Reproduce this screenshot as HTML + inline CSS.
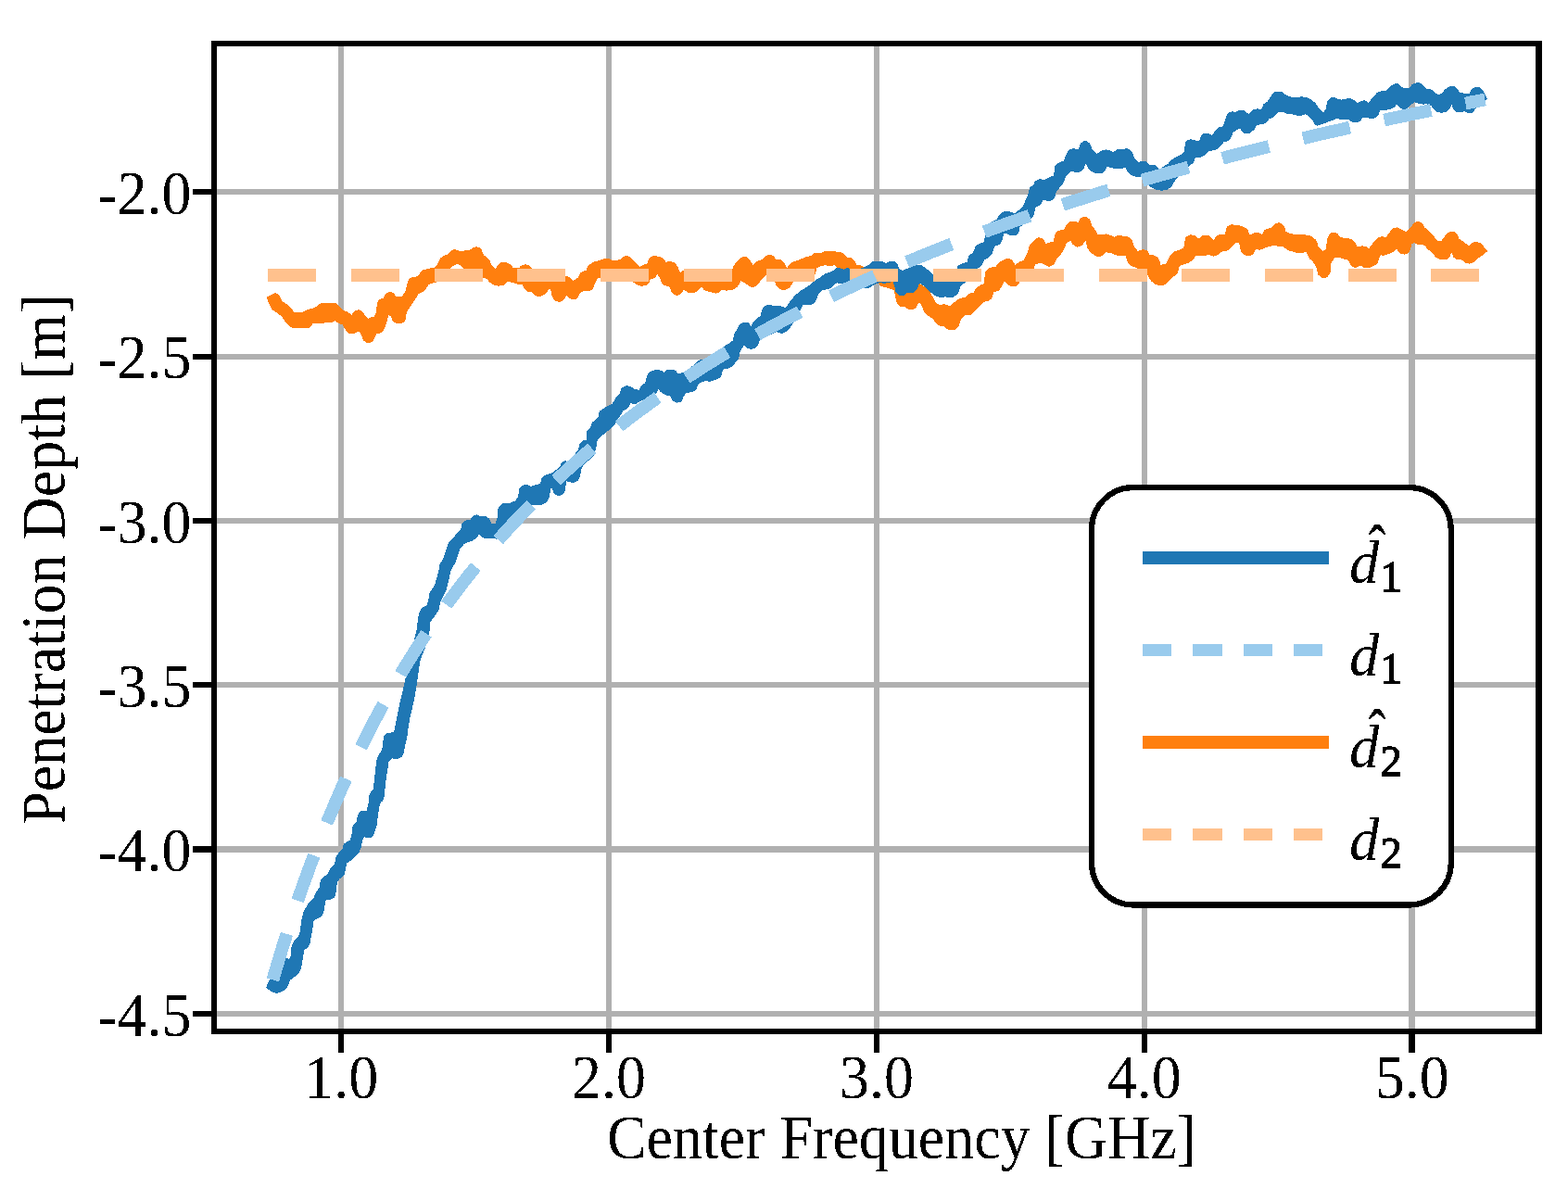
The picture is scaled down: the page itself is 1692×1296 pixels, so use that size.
<!DOCTYPE html>
<html lang="en">
<head>
<meta charset="utf-8">
<title>Penetration Depth vs Center Frequency</title>
<style>
html,body{margin:0;padding:0;background:#fff;}
body{width:1692px;height:1296px;overflow:hidden;}
svg{display:block;}
text{font-family:"Liberation Serif",serif;fill:#000;}
.t{font-size:66.67px;}
.k{font-size:67.7px;}
.m{font-style:italic;font-size:64.6px;}
</style>
</head>
<body>
<svg width="1692" height="1296" viewBox="0 0 1692 1296">
<defs><filter id="bw" x="-10%" y="-10%" width="120%" height="120%" color-interpolation-filters="sRGB"><feComponentTransfer><feFuncA type="discrete" tableValues="0 1"/></feComponentTransfer></filter></defs>
<rect x="0" y="0" width="1692" height="1296" fill="#ffffff"/>
<g id="grid" fill="#b0b0b0" shape-rendering="crispEdges">
<rect x="365" y="44" width="6" height="1072"/>
<rect x="654" y="44" width="6" height="1072"/>
<rect x="943" y="44" width="6" height="1072"/>
<rect x="1232" y="44" width="6" height="1072"/>
<rect x="1520" y="44" width="7" height="1072"/>
<rect x="228" y="204" width="1436" height="6"/>
<rect x="228" y="382" width="1436" height="6"/>
<rect x="228" y="559" width="1436" height="6"/>
<rect x="228" y="736" width="1436" height="6"/>
<rect x="228" y="913" width="1436" height="7"/>
<rect x="228" y="1091" width="1436" height="6"/>
</g>
<g id="curves" shape-rendering="crispEdges">
<path id="est2" fill="#ff7f0e" d="M1598.7 276.3 L1605.0 271.1 L1598.5 262.9 L1594.8 261.3 L1592.6 261.1 L1590.1 261.5 L1588.2 262.4 L1584.9 265.2 L1579.7 261.2 L1574.3 257.6 L1573.4 254.3 L1572.9 253.0 L1571.9 252.0 L1570.0 250.6 L1568.9 250.1 L1567.7 249.9 L1564.3 250.1 L1563.1 250.8 L1559.8 253.8 L1555.3 259.9 L1551.2 259.7 L1543.2 250.2 L1537.6 245.7 L1535.4 241.8 L1534.5 240.7 L1533.1 239.9 L1531.2 239.4 L1529.9 239.2 L1528.7 239.4 L1525.9 240.6 L1521.7 246.0 L1516.9 250.2 L1509.4 245.9 L1508.0 245.4 L1505.0 245.7 L1503.1 246.7 L1500.2 249.6 L1495.7 255.8 L1491.9 255.3 L1490.0 255.5 L1487.1 256.6 L1485.5 257.7 L1481.3 262.5 L1477.3 268.2 L1474.4 266.4 L1473.1 265.9 L1470.3 265.4 L1464.3 265.8 L1462.4 261.6 L1461.0 259.9 L1458.6 258.3 L1456.9 257.7 L1446.6 256.1 L1443.6 252.5 L1442.3 251.5 L1441.1 250.9 L1439.5 250.5 L1437.9 250.7 L1435.5 251.8 L1434.6 252.8 L1432.9 255.7 L1432.3 257.2 L1430.6 268.8 L1427.1 271.1 L1423.0 267.0 L1420.7 260.0 L1420.1 258.9 L1419.2 258.0 L1415.1 255.1 L1413.6 254.4 L1407.8 253.2 L1400.2 253.4 L1393.1 252.2 L1387.2 249.9 L1386.3 245.2 L1385.8 244.1 L1383.3 241.4 L1381.8 240.6 L1380.0 240.4 L1377.5 240.8 L1376.1 241.3 L1375.0 242.2 L1371.8 246.0 L1366.5 247.1 L1365.0 247.8 L1363.9 249.1 L1361.8 252.8 L1359.5 251.7 L1358.1 251.4 L1355.1 251.1 L1353.2 251.5 L1348.8 253.4 L1346.4 248.2 L1345.7 247.1 L1344.6 246.3 L1339.4 243.9 L1334.2 242.8 L1329.4 242.3 L1328.2 242.4 L1327.0 242.8 L1325.4 243.7 L1324.2 244.7 L1323.5 246.1 L1321.6 252.8 L1315.7 253.3 L1314.1 253.7 L1312.8 254.8 L1309.2 259.3 L1307.3 256.4 L1306.2 255.3 L1303.2 253.6 L1299.0 253.7 L1297.5 254.0 L1296.3 254.9 L1293.8 257.6 L1289.0 254.1 L1287.9 253.6 L1284.5 253.4 L1283.3 253.6 L1280.4 255.4 L1279.3 256.5 L1278.8 258.0 L1277.3 267.6 L1266.5 271.9 L1264.8 273.2 L1261.1 278.1 L1258.4 284.7 L1252.5 285.9 L1251.0 280.5 L1249.9 278.6 L1246.5 275.7 L1240.6 274.7 L1238.3 271.2 L1237.4 270.2 L1236.2 269.6 L1232.9 269.4 L1231.2 269.7 L1227.9 271.1 L1223.8 265.8 L1221.8 259.8 L1220.6 258.0 L1217.2 255.4 L1211.4 254.6 L1208.2 253.8 L1206.7 253.7 L1205.3 254.2 L1202.5 255.8 L1195.9 252.8 L1193.6 252.4 L1184.8 253.4 L1182.1 248.3 L1178.3 244.0 L1176.4 237.8 L1175.7 236.5 L1174.5 235.5 L1172.2 234.2 L1170.6 233.7 L1168.9 234.0 L1167.5 234.5 L1166.1 235.3 L1165.2 236.6 L1163.5 240.4 L1161.5 239.2 L1159.5 238.6 L1156.3 238.6 L1154.8 238.9 L1153.5 239.8 L1151.5 241.8 L1147.6 248.1 L1143.4 248.6 L1141.3 249.5 L1138.9 251.8 L1138.4 253.0 L1136.9 260.5 L1133.2 261.4 L1128.7 262.9 L1126.2 258.5 L1125.4 257.5 L1124.2 256.8 L1120.7 256.4 L1119.3 256.6 L1118.0 257.4 L1115.5 259.6 L1111.5 264.0 L1110.7 265.5 L1108.6 272.9 L1104.4 281.2 L1099.8 282.7 L1098.5 283.5 L1095.6 285.9 L1092.7 281.2 L1091.9 280.2 L1088.9 278.9 L1087.3 278.6 L1085.7 279.0 L1078.7 282.5 L1077.2 283.8 L1074.3 288.0 L1068.6 288.7 L1067.3 289.1 L1066.2 289.9 L1064.1 292.0 L1063.3 293.1 L1062.9 294.5 L1061.9 306.0 L1058.0 307.7 L1054.0 310.1 L1052.5 311.8 L1050.6 315.5 L1046.7 316.5 L1045.5 317.1 L1043.9 319.0 L1041.5 320.8 L1036.4 321.8 L1034.9 322.5 L1029.8 326.0 L1024.9 330.2 L1020.2 328.4 L1019.0 328.1 L1014.3 329.1 L1009.6 326.7 L1007.1 321.2 L1003.3 315.1 L999.0 310.8 L995.1 307.3 L993.5 306.5 L991.7 306.4 L990.7 306.6 L980.0 303.7 L968.4 297.8 L956.9 293.2 L937.5 290.7 L929.8 286.8 L928.5 286.4 L924.5 285.9 L922.4 282.2 L919.5 279.2 L918.5 278.4 L917.2 278.1 L913.8 277.6 L912.1 275.1 L910.4 273.6 L907.3 272.2 L906.1 271.9 L898.3 271.1 L890.9 271.1 L889.5 271.4 L885.5 272.9 L880.0 272.9 L878.5 273.2 L877.2 274.1 L875.4 275.9 L868.7 277.7 L861.8 280.6 L855.3 282.8 L854.2 283.4 L852.0 285.2 L849.1 289.5 L846.5 284.4 L844.4 281.7 L843.0 280.6 L841.4 280.2 L837.3 280.0 L835.1 276.9 L834.1 275.9 L832.9 275.3 L831.5 275.2 L828.4 275.4 L826.8 275.8 L825.6 276.8 L823.1 279.8 L816.9 282.1 L815.4 283.0 L812.5 285.9 L809.3 281.0 L807.3 278.6 L805.8 277.5 L804.0 277.2 L800.7 277.6 L799.7 278.2 L795.6 281.6 L792.1 286.1 L790.0 290.7 L761.7 290.2 L759.1 289.5 L757.1 289.5 L754.6 290.2 L739.1 291.2 L737.1 291.8 L733.9 294.0 L731.3 288.0 L729.4 284.8 L728.4 283.8 L727.1 283.1 L724.6 282.4 L723.1 282.2 L718.5 282.6 L716.6 280.0 L715.6 279.0 L712.9 277.3 L710.9 276.6 L705.7 276.3 L704.4 276.4 L703.2 277.0 L700.9 278.5 L699.9 279.6 L699.3 281.0 L698.4 284.7 L694.9 285.6 L690.7 287.7 L686.0 284.1 L682.6 279.9 L680.2 277.5 L678.8 276.6 L677.2 276.3 L674.6 276.4 L673.1 276.7 L671.9 277.6 L670.0 279.4 L664.7 281.4 L661.5 281.0 L658.7 279.8 L657.1 279.4 L651.7 279.4 L650.1 279.8 L647.3 281.0 L641.2 282.2 L639.5 283.0 L635.2 286.4 L633.9 288.1 L632.5 291.8 L628.3 293.1 L626.8 293.9 L625.8 295.2 L623.7 299.5 L618.3 303.1 L615.0 299.6 L613.0 298.4 L588.5 291.9 L574.0 290.1 L572.4 287.7 L571.5 286.7 L570.3 286.1 L566.9 285.2 L563.3 286.1 L561.5 287.4 L559.8 289.5 L553.9 289.2 L552.1 286.7 L550.8 285.5 L547.7 283.8 L545.8 283.3 L541.6 283.3 L540.4 283.5 L537.7 285.3 L536.4 286.9 L535.0 290.1 L530.3 285.9 L528.7 281.8 L528.1 280.7 L525.9 278.1 L522.0 275.3 L519.7 269.7 L518.8 268.4 L517.6 267.5 L515.7 266.7 L514.3 266.4 L512.9 266.5 L510.4 267.3 L509.0 268.2 L506.6 270.3 L501.6 270.4 L496.0 271.1 L492.3 269.6 L490.2 269.3 L487.8 269.8 L486.8 270.7 L483.0 274.7 L478.9 276.0 L475.7 278.2 L474.3 279.9 L472.4 284.7 L469.1 288.5 L463.1 289.7 L457.4 291.2 L456.2 291.6 L455.3 292.4 L450.2 298.3 L445.2 299.0 L443.5 299.7 L442.0 300.7 L441.0 301.7 L440.4 302.9 L437.2 315.1 L433.7 320.1 L427.8 320.4 L425.3 317.0 L424.0 315.7 L422.2 315.2 L420.5 315.2 L418.5 315.6 L417.1 316.3 L416.1 317.0 L415.3 318.1 L413.6 321.6 L410.9 322.5 L409.4 323.5 L407.3 325.8 L406.9 327.1 L405.9 336.4 L404.1 341.7 L400.0 342.6 L397.0 344.1 L394.1 340.5 L391.8 336.9 L391.0 335.9 L390.0 335.3 L387.0 334.3 L384.1 334.8 L383.0 335.4 L382.0 336.3 L379.3 339.9 L376.3 337.4 L375.1 336.7 L371.0 335.2 L366.3 331.1 L362.9 327.7 L361.4 326.7 L359.7 326.5 L346.5 327.4 L345.1 327.8 L343.9 328.6 L341.5 331.1 L336.7 332.8 L330.1 334.8 L325.5 337.3 L317.8 337.3 L315.3 333.9 L312.3 330.3 L304.2 324.6 L301.8 319.7 L299.9 317.1 L298.5 316.5 L296.3 316.4 L287.3 321.0 L293.6 334.0 L298.9 337.6 L303.6 341.1 L308.8 348.6 L314.3 353.3 L315.6 354.1 L317.0 354.3 L331.7 354.3 L333.6 353.9 L335.0 352.7 L337.3 349.4 L347.2 349.4 L348.5 349.2 L350.9 347.6 L356.9 348.1 L359.0 347.7 L361.6 346.4 L365.9 349.1 L369.8 350.6 L373.0 356.4 L374.0 357.6 L375.8 359.1 L377.0 359.8 L378.4 360.0 L380.7 360.0 L382.5 359.6 L387.0 357.4 L389.9 361.2 L391.8 366.4 L392.5 367.6 L395.3 369.6 L397.1 370.2 L398.9 370.0 L401.6 368.7 L402.5 367.6 L404.1 364.8 L406.5 360.0 L409.7 359.6 L411.1 359.2 L412.2 358.3 L414.2 355.9 L415.0 354.6 L417.1 348.3 L419.5 339.9 L421.8 341.7 L423.8 346.3 L426.8 348.7 L428.9 349.4 L432.4 349.4 L435.8 347.4 L436.9 346.2 L437.5 344.8 L439.0 336.4 L450.0 320.2 L451.4 316.9 L455.1 315.7 L456.8 314.6 L459.9 311.2 L462.6 306.8 L467.9 305.1 L470.3 304.7 L472.0 303.9 L476.7 300.9 L481.5 296.3 L485.4 290.2 L488.9 287.1 L493.6 285.0 L496.6 286.5 L499.7 289.7 L500.7 290.5 L510.0 295.3 L520.6 299.5 L525.0 300.7 L528.4 304.6 L531.8 306.8 L535.4 308.3 L537.1 308.6 L541.1 308.4 L543.0 307.9 L546.0 305.9 L548.0 303.9 L552.7 304.8 L558.5 306.7 L563.4 307.2 L565.5 310.9 L568.3 313.9 L569.4 314.7 L570.7 315.1 L574.0 315.5 L577.7 318.8 L578.8 319.4 L580.1 319.6 L583.5 319.6 L585.6 319.0 L588.6 317.1 L589.9 315.9 L592.3 311.9 L594.1 312.5 L595.7 319.5 L596.2 320.8 L597.9 323.5 L599.0 324.6 L600.5 325.3 L602.5 325.7 L604.6 325.5 L607.6 324.2 L608.4 323.3 L611.3 319.0 L614.1 321.6 L616.5 323.0 L617.8 323.5 L620.7 323.2 L622.2 322.5 L623.4 321.2 L626.6 315.5 L629.0 314.3 L635.4 314.3 L638.5 312.6 L639.5 311.8 L644.9 300.1 L648.1 299.9 L661.5 300.1 L662.3 301.8 L663.6 302.8 L665.2 303.2 L682.5 303.9 L686.0 306.7 L687.3 307.4 L690.7 308.4 L692.0 308.6 L696.0 308.4 L697.7 308.0 L699.0 307.0 L700.1 305.6 L701.0 303.8 L701.4 301.9 L705.6 300.3 L707.4 299.0 L709.6 296.0 L712.0 300.1 L714.3 305.5 L715.2 306.9 L716.7 307.8 L722.6 309.6 L724.6 315.0 L725.9 316.8 L728.6 318.5 L730.1 318.7 L732.0 318.6 L733.7 318.0 L735.0 316.9 L738.0 312.5 L741.9 315.4 L743.9 316.2 L747.2 316.5 L748.6 316.4 L749.9 315.8 L752.5 313.9 L756.9 309.6 L759.6 312.7 L760.6 313.5 L761.8 314.0 L766.4 314.9 L770.8 316.4 L772.3 316.6 L773.7 316.3 L776.3 315.2 L777.6 314.3 L779.4 312.5 L783.3 313.5 L784.9 313.6 L790.4 312.6 L791.9 312.1 L795.0 310.1 L796.4 308.6 L799.5 303.1 L804.2 305.4 L807.8 308.6 L809.0 309.3 L810.4 309.6 L813.2 309.6 L814.7 309.3 L816.0 308.4 L818.2 306.2 L823.1 300.1 L826.7 296.6 L836.1 303.9 L837.0 307.3 L838.1 309.1 L840.1 311.1 L841.9 312.2 L844.5 312.8 L846.6 312.8 L849.8 311.8 L851.3 311.1 L853.8 307.9 L855.9 304.2 L867.7 300.1 L877.4 297.2 L878.6 296.6 L879.5 295.6 L880.1 294.4 L881.3 289.5 L885.5 287.1 L890.2 286.2 L896.2 287.2 L898.3 286.9 L900.8 285.9 L903.3 289.0 L911.0 297.3 L912.0 298.0 L920.3 302.7 L921.7 303.2 L938.5 305.4 L948.1 306.0 L949.6 307.8 L950.6 308.8 L951.9 309.3 L956.4 310.2 L964.7 313.1 L967.4 326.1 L968.5 328.1 L970.6 330.3 L971.9 331.1 L973.4 331.4 L976.5 331.4 L978.3 332.8 L979.5 333.4 L982.3 334.3 L983.6 334.4 L984.8 334.2 L987.6 333.0 L988.5 332.0 L991.8 326.1 L994.8 330.2 L997.3 336.9 L998.7 338.6 L1002.2 341.3 L1006.0 343.3 L1010.0 348.9 L1013.2 351.4 L1019.0 352.1 L1021.7 354.8 L1023.8 355.9 L1026.3 356.4 L1028.3 356.3 L1030.8 355.5 L1031.9 354.9 L1032.8 354.0 L1034.6 351.5 L1035.2 350.3 L1036.8 345.0 L1041.5 340.3 L1043.9 339.7 L1046.5 339.7 L1048.1 339.4 L1049.5 338.4 L1053.0 334.4 L1057.5 330.4 L1061.3 326.1 L1066.5 324.7 L1068.8 323.3 L1069.9 322.4 L1070.6 321.1 L1072.5 315.5 L1076.5 314.1 L1077.7 313.5 L1078.6 312.6 L1081.5 308.1 L1083.7 303.1 L1086.8 306.6 L1088.0 307.6 L1091.1 309.1 L1093.1 309.5 L1094.9 309.4 L1096.5 309.0 L1097.9 307.8 L1101.5 303.1 L1114.7 291.5 L1115.5 290.5 L1115.9 289.4 L1116.8 285.7 L1122.7 283.6 L1130.6 287.3 L1132.2 287.7 L1133.8 287.3 L1136.8 285.8 L1137.6 284.7 L1140.5 279.4 L1145.4 273.7 L1148.6 267.8 L1151.1 261.7 L1155.2 259.9 L1157.6 263.7 L1159.2 265.1 L1161.2 266.2 L1162.9 266.6 L1164.7 266.2 L1168.1 264.5 L1168.9 263.5 L1171.2 259.3 L1173.4 267.4 L1174.0 268.8 L1176.7 272.3 L1177.7 273.3 L1183.1 276.5 L1187.5 276.5 L1188.8 276.2 L1190.0 275.5 L1193.7 272.3 L1199.6 273.5 L1206.0 275.9 L1209.7 276.4 L1214.3 275.9 L1216.4 282.1 L1217.4 283.6 L1220.2 286.5 L1221.7 287.4 L1231.5 291.2 L1231.9 292.0 L1233.3 293.6 L1238.0 296.6 L1241.5 302.4 L1242.4 303.5 L1245.8 306.4 L1247.5 307.2 L1252.4 308.3 L1253.6 308.4 L1257.5 307.0 L1259.0 305.9 L1261.9 302.5 L1266.6 298.3 L1269.5 296.3 L1270.5 295.2 L1271.1 293.9 L1272.6 287.1 L1277.3 285.3 L1282.4 283.8 L1283.8 283.0 L1287.0 280.3 L1290.3 276.5 L1300.1 276.3 L1301.7 275.8 L1303.9 274.7 L1307.0 276.2 L1309.1 276.6 L1312.6 276.0 L1313.7 275.3 L1317.5 271.7 L1323.3 270.8 L1324.5 270.4 L1325.5 269.6 L1332.8 262.3 L1337.0 262.0 L1338.6 269.7 L1339.2 271.2 L1341.0 273.8 L1342.7 275.1 L1346.4 276.5 L1350.0 275.7 L1351.5 275.0 L1352.6 273.7 L1354.7 269.4 L1360.1 269.6 L1362.2 269.1 L1365.9 267.0 L1370.1 265.8 L1376.6 264.6 L1379.3 266.0 L1381.1 266.4 L1384.8 266.4 L1389.0 269.5 L1390.3 270.2 L1395.5 271.7 L1399.3 273.2 L1401.1 273.4 L1405.7 273.0 L1409.7 271.7 L1412.3 278.0 L1413.3 279.4 L1416.8 282.4 L1420.3 288.3 L1422.1 295.3 L1422.5 296.5 L1425.5 299.3 L1427.2 300.2 L1429.1 300.2 L1431.7 299.3 L1432.7 298.5 L1435.2 295.3 L1435.5 294.1 L1436.5 283.6 L1440.1 278.2 L1446.0 278.2 L1450.5 279.7 L1454.9 280.6 L1456.9 285.1 L1457.9 286.5 L1459.6 287.9 L1460.8 288.6 L1462.2 288.9 L1463.6 288.6 L1468.5 286.5 L1471.2 288.4 L1472.9 289.0 L1475.5 289.3 L1477.8 288.9 L1484.8 285.4 L1486.0 284.5 L1486.7 283.3 L1489.7 275.3 L1492.3 275.7 L1494.2 275.6 L1500.1 273.6 L1504.1 271.7 L1505.7 270.1 L1506.9 268.2 L1509.1 271.8 L1510.0 272.7 L1511.1 273.4 L1513.6 274.3 L1515.5 274.6 L1517.5 274.3 L1519.1 273.8 L1520.3 272.6 L1521.8 269.8 L1523.4 262.9 L1526.4 262.3 L1529.2 263.7 L1530.7 264.1 L1537.0 264.6 L1540.4 268.6 L1545.3 272.9 L1549.4 277.5 L1550.9 278.6 L1555.0 280.2 L1556.9 280.5 L1560.2 280.2 L1561.7 279.7 L1562.9 278.8 L1564.4 277.0 L1565.0 275.8 L1566.3 272.3 L1567.9 276.4 L1568.5 277.5 L1569.5 278.4 L1571.6 279.7 L1573.5 280.3 L1578.4 280.6 L1581.0 283.2 L1582.0 283.9 L1585.5 284.6 L1587.7 284.2 L1589.6 283.3 L1590.7 282.5 L1593.8 279.4 Z"/>
<path id="est1" fill="#1f77b4" d="M1605.0 106.8 L1602.6 102.6 L1599.7 96.7 L1596.7 94.1 L1592.8 94.1 L1591.3 94.4 L1588.6 95.8 L1587.8 96.9 L1585.5 101.5 L1580.8 100.9 L1574.8 99.7 L1572.9 96.2 L1570.7 94.1 L1569.4 93.4 L1568.0 93.3 L1564.7 93.4 L1562.7 94.0 L1560.1 95.8 L1559.1 96.7 L1555.9 100.9 L1551.2 102.1 L1546.1 97.4 L1544.3 96.5 L1539.4 95.6 L1534.4 90.6 L1533.4 89.9 L1532.1 89.5 L1529.7 89.2 L1527.8 89.4 L1525.0 90.5 L1523.3 91.6 L1520.5 95.0 L1514.6 95.3 L1509.9 91.3 L1508.6 90.5 L1507.0 90.4 L1505.0 90.5 L1503.0 91.2 L1499.6 93.5 L1495.1 98.2 L1490.3 98.4 L1487.2 99.4 L1485.5 100.5 L1481.4 105.1 L1476.7 110.9 L1475.0 109.4 L1473.7 108.6 L1472.1 108.4 L1470.5 108.5 L1468.9 108.9 L1464.9 110.9 L1460.1 107.3 L1458.9 106.6 L1457.7 106.4 L1453.5 106.4 L1447.2 107.6 L1443.6 106.8 L1441.0 105.3 L1439.5 104.8 L1436.6 105.3 L1435.5 105.8 L1434.6 106.5 L1433.1 108.4 L1432.2 110.1 L1430.6 118.0 L1427.7 121.6 L1422.7 116.1 L1419.5 111.4 L1418.6 110.4 L1414.7 107.5 L1410.3 105.2 L1408.9 104.8 L1404.5 104.3 L1403.1 104.4 L1399.0 105.5 L1391.9 104.3 L1386.0 101.7 L1383.7 99.5 L1382.4 98.7 L1380.8 98.5 L1377.6 98.6 L1376.1 99.0 L1374.9 99.9 L1371.6 103.4 L1367.7 109.6 L1364.8 111.3 L1363.7 112.1 L1363.1 113.3 L1361.2 117.9 L1357.2 117.4 L1355.8 117.5 L1353.0 118.2 L1351.8 118.6 L1350.9 119.4 L1347.6 123.2 L1342.9 119.5 L1341.6 118.7 L1340.1 118.6 L1338.5 118.6 L1336.7 119.2 L1334.0 120.8 L1329.7 120.4 L1327.7 120.7 L1326.3 121.3 L1324.9 122.3 L1324.0 123.8 L1319.8 136.2 L1316.0 137.2 L1314.4 138.0 L1312.1 139.9 L1311.2 140.9 L1308.0 146.2 L1303.2 143.7 L1300.0 143.8 L1298.7 144.1 L1296.4 146.0 L1295.3 147.9 L1294.4 151.6 L1291.5 152.2 L1287.5 150.7 L1285.9 150.4 L1283.2 150.6 L1281.1 151.3 L1279.4 152.9 L1278.9 154.5 L1277.9 163.4 L1274.9 166.3 L1265.0 171.9 L1263.8 172.9 L1260.7 176.4 L1251.3 182.3 L1248.5 179.7 L1246.0 178.1 L1244.7 177.6 L1243.4 177.5 L1240.6 177.8 L1238.3 175.5 L1236.3 174.3 L1234.9 173.7 L1233.5 173.8 L1227.9 174.9 L1223.8 169.6 L1221.8 164.6 L1220.6 163.0 L1218.5 161.3 L1217.2 160.6 L1215.8 160.4 L1206.7 161.0 L1205.5 161.2 L1201.3 164.2 L1197.9 162.3 L1196.4 161.8 L1193.5 161.4 L1191.5 161.7 L1187.1 163.4 L1183.6 166.0 L1178.3 160.7 L1176.5 155.7 L1175.7 154.4 L1174.5 153.5 L1172.8 152.6 L1171.4 152.1 L1169.9 152.2 L1168.6 152.8 L1166.0 154.9 L1165.5 156.0 L1163.5 161.3 L1159.3 160.3 L1157.2 160.4 L1154.6 161.3 L1153.1 162.1 L1152.2 163.5 L1147.6 173.7 L1142.6 175.6 L1140.4 176.9 L1139.1 178.1 L1138.4 179.7 L1136.9 189.6 L1133.0 190.8 L1126.3 194.4 L1123.2 193.4 L1121.6 193.3 L1120.1 193.8 L1117.0 195.7 L1116.3 196.8 L1115.1 199.7 L1112.2 201.7 L1111.2 202.8 L1110.6 204.2 L1109.1 210.9 L1106.3 216.7 L1103.8 222.7 L1099.2 226.8 L1095.6 230.4 L1088.6 227.8 L1087.3 227.5 L1085.9 227.6 L1083.2 228.4 L1082.0 229.1 L1078.6 231.6 L1077.4 233.0 L1075.5 236.9 L1070.9 239.2 L1069.7 240.1 L1069.0 241.2 L1062.7 255.9 L1061.9 261.2 L1057.3 262.6 L1054.0 264.7 L1052.5 266.4 L1049.5 273.0 L1046.9 274.4 L1045.7 275.6 L1045.0 277.2 L1043.9 282.4 L1035.3 285.7 L1034.1 286.4 L1033.3 287.4 L1032.6 290.1 L1021.4 296.6 L1007.2 297.7 L1006.4 296.1 L1005.4 294.8 L998.0 288.5 L994.4 286.2 L993.0 285.6 L991.5 285.6 L986.8 286.7 L974.1 291.8 L970.0 290.1 L969.0 285.9 L968.0 283.9 L965.7 282.1 L964.2 281.8 L961.1 281.8 L958.9 282.5 L956.4 284.1 L952.4 282.2 L950.8 281.7 L945.3 281.5 L943.9 281.7 L941.0 282.6 L939.1 283.9 L937.5 285.9 L926.8 290.7 L917.4 290.1 L915.7 289.1 L914.2 289.0 L912.8 289.4 L910.3 290.7 L906.6 289.3 L904.5 289.1 L902.8 289.3 L901.4 289.9 L900.3 290.9 L899.7 292.1 L890.8 295.1 L889.7 295.7 L885.5 298.9 L879.3 302.7 L873.7 307.7 L864.0 313.8 L858.1 318.6 L853.8 323.5 L850.0 329.0 L847.1 332.0 L842.4 330.1 L838.7 329.7 L834.1 330.2 L831.9 329.1 L830.5 328.7 L827.4 329.3 L825.7 330.3 L823.5 332.4 L822.5 334.1 L820.5 340.8 L814.0 346.3 L813.0 347.4 L810.4 352.1 L808.5 349.3 L807.3 348.2 L805.7 347.7 L802.8 347.5 L799.5 349.2 L798.1 350.5 L795.6 354.5 L792.4 360.4 L792.0 361.6 L790.9 367.4 L786.2 371.0 L782.4 372.9 L769.6 382.2 L757.8 388.1 L755.3 388.5 L753.4 389.4 L739.4 401.7 L738.6 401.5 L736.9 401.7 L731.8 403.6 L730.3 401.2 L729.3 400.2 L728.1 399.6 L724.5 398.6 L722.6 398.5 L718.9 399.4 L716.5 401.8 L713.9 400.1 L711.8 399.4 L707.8 399.2 L706.3 399.5 L702.3 400.8 L701.2 401.4 L700.4 402.3 L698.6 404.7 L698.0 406.1 L696.4 413.0 L692.4 416.1 L691.2 417.4 L689.3 421.0 L684.6 419.6 L680.4 417.2 L676.7 416.3 L675.2 416.3 L673.8 416.8 L671.7 418.2 L670.6 419.1 L669.9 420.4 L668.6 424.9 L664.2 429.5 L660.9 435.5 L654.9 438.6 L648.2 442.8 L647.0 444.0 L646.4 445.5 L645.6 450.3 L643.2 452.6 L639.2 455.7 L638.6 456.8 L637.3 460.9 L634.0 464.6 L633.3 465.7 L633.1 467.0 L632.6 474.5 L630.6 474.9 L628.8 475.8 L626.5 477.8 L625.7 478.8 L625.2 480.0 L624.3 484.6 L618.4 492.8 L613.6 498.2 L611.5 497.5 L610.1 497.3 L607.5 498.1 L606.2 499.0 L605.4 500.3 L604.2 503.5 L597.1 509.4 L594.4 511.2 L590.6 511.7 L588.9 512.3 L585.8 514.4 L584.6 515.5 L584.0 517.0 L583.2 521.8 L573.1 524.8 L570.3 523.6 L568.7 523.2 L566.0 523.2 L563.8 523.9 L562.2 525.0 L561.0 526.2 L560.4 527.7 L558.9 536.0 L556.6 540.1 L549.5 543.3 L546.3 542.5 L544.8 542.5 L543.4 543.0 L540.8 544.4 L539.5 545.6 L537.7 548.1 L537.0 550.2 L536.5 559.6 L534.1 565.6 L530.0 564.4 L528.1 559.8 L524.8 557.3 L523.4 556.6 L521.9 556.6 L518.7 557.0 L515.5 555.7 L514.0 555.4 L511.3 556.2 L510.1 556.9 L509.2 558.0 L507.5 561.1 L504.4 561.1 L502.5 561.6 L500.3 562.9 L499.0 564.0 L498.3 565.6 L497.5 570.3 L492.7 576.2 L485.7 583.8 L483.8 586.2 L483.1 587.6 L480.9 595.1 L478.0 603.4 L474.8 608.6 L474.3 610.0 L473.2 616.4 L469.1 631.7 L464.4 638.1 L463.6 639.8 L462.6 645.9 L460.8 653.0 L455.6 655.9 L454.5 656.7 L453.8 658.0 L451.8 663.2 L450.5 671.8 L449.9 679.0 L440.1 716.7 L438.1 728.7 L434.5 746.4 L431.5 758.3 L425.1 789.9 L418.4 791.2 L417.1 791.6 L416.1 792.4 L414.2 794.8 L413.9 796.0 L412.3 808.9 L409.8 812.7 L406.7 818.9 L406.3 820.2 L402.8 851.5 L398.9 856.3 L398.6 857.4 L397.5 866.8 L395.7 874.5 L390.5 875.1 L388.9 875.7 L387.6 876.9 L386.3 879.0 L385.6 880.8 L385.1 886.9 L381.4 890.6 L380.6 891.8 L380.3 893.1 L379.8 898.7 L378.0 906.4 L372.3 909.7 L371.2 910.8 L370.5 912.1 L369.7 915.3 L366.1 919.6 L363.1 924.1 L362.5 925.5 L360.9 933.0 L357.4 936.0 L356.4 937.3 L353.4 943.5 L349.0 946.0 L347.5 947.5 L346.1 950.0 L345.6 951.3 L344.5 957.7 L340.7 963.2 L338.0 970.1 L334.6 972.6 L333.4 973.9 L330.9 978.4 L328.4 982.0 L327.8 983.2 L325.6 991.1 L323.2 1008.6 L316.7 1016.2 L315.9 1017.7 L314.3 1023.2 L313.8 1031.6 L312.0 1034.6 L309.3 1034.1 L308.0 1034.4 L306.8 1035.1 L304.6 1037.4 L295.5 1052.3 L290.5 1057.6 L287.0 1066.2 L295.5 1071.4 L299.1 1071.7 L301.2 1071.3 L306.6 1068.6 L307.8 1067.6 L310.3 1064.8 L311.1 1063.3 L312.6 1058.2 L316.1 1055.2 L320.7 1052.2 L321.9 1051.0 L324.0 1047.6 L324.6 1046.2 L327.3 1032.4 L328.0 1025.3 L331.3 1023.3 L332.6 1021.9 L334.1 1019.2 L334.6 1017.9 L337.4 1001.4 L338.6 993.2 L346.3 989.1 L347.3 988.3 L348.1 987.3 L349.3 984.4 L351.6 971.3 L357.1 970.6 L358.9 969.9 L360.9 968.2 L361.4 967.0 L362.6 962.2 L364.0 951.8 L366.4 948.3 L369.8 946.1 L370.9 945.1 L371.5 943.8 L373.2 938.1 L373.9 931.8 L378.2 928.8 L382.6 924.8 L386.9 920.6 L387.8 919.3 L389.9 913.7 L391.0 907.0 L392.8 902.9 L395.5 904.2 L397.0 904.6 L400.0 904.0 L401.4 903.2 L402.4 901.9 L403.9 899.0 L406.4 891.3 L409.3 870.4 L411.1 865.7 L412.8 864.3 L413.8 863.1 L414.3 861.7 L416.4 843.2 L419.4 822.5 L422.9 818.4 L427.9 818.9 L429.7 818.6 L432.1 817.7 L433.4 817.0 L434.3 815.8 L436.0 811.8 L437.1 804.2 L439.5 794.5 L440.4 786.6 L442.2 775.9 L447.5 752.2 L449.3 741.6 L453.4 713.3 L455.8 706.2 L459.4 697.8 L461.7 690.6 L462.9 685.3 L463.7 679.2 L464.1 671.3 L467.4 667.4 L473.3 658.5 L474.0 656.8 L475.0 649.5 L481.1 638.3 L483.8 628.4 L485.7 618.7 L487.4 614.0 L491.7 606.5 L496.3 592.7 L500.4 587.4 L504.6 585.1 L509.9 583.5 L513.3 581.4 L514.5 580.2 L517.0 576.2 L519.2 578.9 L521.0 580.1 L522.9 580.7 L524.1 580.9 L532.9 580.9 L535.3 581.6 L536.7 581.8 L538.2 581.4 L539.4 580.5 L572.6 544.5 L577.5 545.4 L582.7 545.5 L584.7 544.9 L588.8 542.4 L590.2 541.1 L592.2 537.9 L592.8 536.4 L594.4 526.5 L596.2 527.7 L597.3 531.7 L599.4 533.8 L600.7 534.5 L602.2 534.7 L604.7 534.6 L606.4 534.1 L607.7 533.0 L608.9 531.5 L609.7 529.6 L611.3 519.4 L617.2 520.9 L618.4 521.0 L621.7 519.9 L622.9 519.2 L623.8 518.2 L625.6 514.7 L627.8 505.2 L630.2 501.1 L637.4 495.1 L640.2 492.3 L641.1 490.8 L643.2 484.2 L644.4 475.7 L649.1 470.4 L653.9 466.8 L661.2 460.6 L664.0 457.1 L672.7 443.2 L677.3 440.7 L678.1 439.7 L681.0 434.3 L682.3 435.6 L683.6 436.1 L685.0 436.1 L686.3 435.7 L696.4 430.2 L707.1 424.9 L708.1 424.1 L708.8 423.1 L710.6 419.8 L712.5 422.5 L713.6 423.5 L717.2 425.8 L723.6 427.8 L725.3 431.4 L726.1 432.4 L727.1 433.1 L729.2 434.2 L730.7 434.6 L733.6 434.0 L735.1 433.2 L736.1 431.8 L737.8 427.8 L739.2 425.8 L740.1 424.2 L741.3 423.6 L746.1 423.4 L748.1 422.7 L750.2 421.3 L751.2 420.5 L751.8 419.4 L753.1 415.9 L755.5 412.9 L761.4 411.2 L766.3 411.7 L768.2 411.4 L773.3 409.3 L776.3 407.8 L777.6 406.8 L778.4 405.3 L780.3 398.7 L785.7 397.7 L790.0 395.7 L791.5 394.3 L793.3 391.7 L796.0 389.0 L797.1 386.9 L798.0 382.2 L799.2 378.1 L802.7 372.7 L805.6 375.1 L807.2 375.9 L809.8 376.6 L811.0 376.7 L812.2 376.4 L814.8 375.5 L816.4 374.3 L818.1 372.3 L818.9 370.7 L819.9 366.8 L838.2 358.0 L841.6 359.4 L842.9 359.7 L844.3 359.6 L846.8 358.8 L848.3 358.0 L851.9 354.9 L852.7 353.8 L866.6 329.0 L871.8 329.5 L873.2 329.4 L877.1 328.2 L880.3 324.8 L881.0 323.6 L883.1 317.8 L886.7 313.6 L894.2 311.7 L898.1 309.7 L899.4 308.7 L900.2 307.0 L903.2 305.4 L906.7 306.4 L908.1 306.1 L911.5 304.8 L921.1 308.4 L932.3 311.2 L936.0 311.3 L937.4 311.1 L938.6 310.4 L941.0 308.4 L949.3 304.8 L953.0 305.8 L955.0 305.8 L958.7 304.8 L963.5 304.2 L965.2 308.4 L966.2 314.2 L966.6 315.4 L968.4 317.4 L969.5 318.2 L970.8 318.6 L973.6 318.9 L975.2 318.7 L976.6 317.9 L978.8 316.1 L984.3 316.1 L985.8 315.8 L987.1 314.9 L989.3 312.7 L990.4 310.9 L991.8 305.4 L996.6 308.4 L1001.5 313.3 L1008.9 319.1 L1010.4 319.8 L1014.4 321.1 L1016.6 321.1 L1020.2 320.2 L1023.8 321.3 L1026.1 321.3 L1028.9 320.4 L1030.3 319.6 L1033.0 317.3 L1034.2 315.7 L1036.8 308.4 L1041.5 304.8 L1043.6 303.8 L1044.5 302.5 L1044.9 301.0 L1045.3 292.5 L1053.6 290.3 L1058.0 287.8 L1059.4 286.2 L1062.5 280.1 L1066.5 278.1 L1067.7 277.1 L1070.2 274.2 L1071.0 272.8 L1073.1 265.9 L1077.7 264.1 L1078.8 263.3 L1079.7 262.3 L1082.1 257.6 L1083.1 252.3 L1085.5 251.7 L1088.9 253.6 L1090.5 254.2 L1093.9 254.5 L1095.5 254.3 L1096.8 253.6 L1098.0 252.6 L1098.9 251.6 L1099.4 250.3 L1100.3 245.2 L1112.7 236.2 L1113.7 235.1 L1115.2 232.8 L1115.8 231.5 L1117.4 223.9 L1121.7 221.5 L1123.3 220.0 L1125.7 215.7 L1129.3 216.7 L1132.9 216.8 L1134.4 216.5 L1135.7 215.7 L1137.3 214.1 L1138.4 212.1 L1139.3 208.0 L1144.0 201.5 L1147.5 197.4 L1148.4 195.8 L1149.9 190.2 L1155.8 184.3 L1159.6 185.8 L1161.5 186.0 L1164.4 185.6 L1166.1 185.0 L1167.9 183.8 L1169.3 182.1 L1171.8 176.6 L1174.4 181.8 L1175.4 183.1 L1177.8 185.1 L1178.9 185.7 L1182.3 187.0 L1183.8 187.3 L1187.5 187.3 L1188.8 187.0 L1190.0 186.4 L1191.7 185.0 L1192.9 183.3 L1194.3 179.6 L1200.0 181.4 L1209.3 182.3 L1211.0 182.0 L1214.3 180.8 L1216.4 184.8 L1217.3 186.0 L1220.3 188.6 L1221.5 189.3 L1225.8 191.0 L1227.8 191.3 L1231.5 190.8 L1235.0 196.5 L1235.9 197.5 L1238.4 199.5 L1242.0 201.9 L1247.2 204.5 L1248.3 204.8 L1253.0 205.6 L1254.3 205.6 L1258.6 204.9 L1260.3 204.2 L1263.7 201.7 L1264.7 200.5 L1267.8 195.3 L1270.8 191.7 L1283.8 178.7 L1287.8 175.7 L1288.3 174.6 L1289.7 170.5 L1295.5 169.6 L1296.8 169.2 L1301.3 166.5 L1304.5 163.4 L1312.8 161.3 L1314.7 160.2 L1317.8 157.2 L1320.4 153.3 L1324.5 152.5 L1327.5 149.8 L1328.4 148.4 L1330.5 143.3 L1334.0 140.3 L1338.2 138.6 L1339.9 141.5 L1340.7 142.5 L1341.8 143.2 L1343.8 144.1 L1345.3 144.4 L1346.7 144.2 L1348.7 143.5 L1350.0 142.8 L1353.0 140.2 L1353.9 139.2 L1356.5 134.8 L1360.3 134.4 L1363.7 133.5 L1365.5 132.5 L1369.5 128.5 L1373.3 126.7 L1376.1 124.7 L1378.9 121.4 L1385.4 121.1 L1388.7 122.7 L1390.5 123.2 L1394.3 123.2 L1398.6 124.5 L1402.9 124.9 L1404.6 124.7 L1408.5 123.2 L1412.0 125.3 L1416.8 130.3 L1417.9 133.2 L1418.8 134.5 L1420.0 135.3 L1421.5 135.7 L1423.0 135.4 L1442.5 128.1 L1447.8 129.1 L1454.3 128.7 L1458.3 131.2 L1461.1 132.3 L1462.6 132.5 L1464.0 132.3 L1466.3 131.4 L1468.0 130.2 L1470.2 127.5 L1475.6 126.9 L1478.9 128.1 L1480.3 128.4 L1481.7 128.1 L1484.2 127.2 L1485.6 126.3 L1487.1 124.7 L1488.2 122.8 L1489.1 118.6 L1493.9 119.1 L1500.9 117.7 L1503.9 116.3 L1504.9 115.5 L1505.7 114.4 L1506.9 111.9 L1510.0 116.1 L1513.6 117.7 L1515.5 117.9 L1517.3 117.7 L1519.0 117.0 L1520.3 115.7 L1521.7 113.3 L1526.4 110.3 L1531.6 112.2 L1535.4 112.6 L1539.4 112.3 L1544.1 113.9 L1547.3 118.2 L1550.1 120.8 L1551.4 121.2 L1555.2 121.7 L1556.7 121.6 L1560.6 120.7 L1561.7 120.2 L1564.4 117.3 L1566.3 113.0 L1568.1 117.4 L1568.8 118.5 L1570.2 120.1 L1571.4 121.0 L1573.0 121.4 L1576.0 121.5 L1578.2 120.9 L1580.2 119.8 L1583.5 121.7 L1585.1 122.2 L1586.6 122.4 L1588.1 122.0 L1590.1 120.8 L1592.0 117.4 Z"/>
<path id="ref2" fill="none" stroke="#ffc18d" stroke-width="13.8" stroke-dasharray="52.00 37.64" d="M289.4 297.0 L1602.7 297.0"/>
<path id="ref1" fill="none" stroke="#99cbed" stroke-width="13.8" stroke-dasharray="51.80 37.86" d="M294.4 1057.4 L295.7 1052.8 L300.1 1038.1 L304.4 1023.7 L308.8 1009.8 L313.1 996.2 L317.5 983.1 L321.8 970.2 L326.1 957.7 L330.5 945.6 L334.8 933.7 L339.2 922.1 L343.5 910.8 L347.9 899.8 L352.2 889.1 L356.6 878.6 L360.9 868.3 L365.3 858.3 L369.6 848.5 L374.0 838.9 L378.3 829.5 L382.7 820.3 L387.0 811.3 L391.4 802.5 L395.7 793.8 L400.1 785.4 L404.4 777.1 L408.8 769.0 L413.1 761.0 L417.5 753.2 L421.8 745.5 L426.2 738.0 L430.5 730.6 L434.8 723.3 L439.2 716.2 L443.5 709.2 L447.9 702.3 L452.2 695.6 L456.6 688.9 L460.9 682.4 L465.3 676.0 L469.6 669.7 L474.0 663.5 L478.3 657.4 L482.7 651.3 L487.0 645.4 L491.4 639.6 L495.7 633.9 L500.1 628.2 L504.4 622.7 L508.8 617.2 L513.1 611.8 L517.5 606.5 L521.8 601.2 L526.2 596.1 L530.5 591.0 L534.9 585.9 L539.2 581.0 L543.5 576.1 L547.9 571.3 L552.2 566.6 L556.6 561.9 L560.9 557.3 L565.3 552.7 L569.6 548.2 L574.0 543.8 L578.3 539.4 L582.7 535.1 L587.0 530.8 L591.4 526.6 L595.7 522.4 L600.1 518.3 L604.4 514.2 L608.8 510.2 L613.1 506.2 L617.5 502.3 L621.8 498.5 L626.2 494.6 L630.5 490.8 L634.9 487.1 L639.2 483.4 L643.6 479.8 L647.9 476.2 L652.2 472.6 L656.6 469.1 L660.9 465.6 L665.3 462.1 L669.6 458.7 L674.0 455.3 L678.3 452.0 L682.7 448.7 L687.0 445.4 L691.4 442.2 L695.7 439.0 L700.1 435.8 L704.4 432.7 L708.8 429.5 L713.1 426.5 L717.5 423.4 L721.8 420.4 L726.2 417.4 L730.5 414.5 L734.9 411.6 L739.2 408.7 L743.6 405.8 L747.9 403.0 L752.3 400.2 L756.6 397.4 L760.9 394.6 L765.3 391.9 L769.6 389.2 L774.0 386.5 L778.3 383.8 L782.7 381.2 L787.0 378.6 L791.4 376.0 L795.7 373.4 L800.1 370.9 L804.4 368.4 L808.8 365.9 L813.1 363.4 L817.5 361.0 L821.8 358.5 L826.2 356.1 L830.5 353.7 L834.9 351.4 L839.2 349.0 L843.6 346.7 L847.9 344.4 L852.3 342.1 L856.6 339.8 L861.0 337.6 L865.3 335.3 L869.6 333.1 L874.0 330.9 L878.3 328.8 L882.7 326.6 L887.0 324.5 L891.4 322.3 L895.7 320.2 L900.1 318.1 L904.4 316.0 L908.8 314.0 L913.1 311.9 L917.5 309.9 L921.8 307.9 L926.2 305.9 L930.5 303.9 L934.9 301.9 L939.2 300.0 L943.6 298.0 L947.9 296.1 L952.3 294.2 L956.6 292.3 L961.0 290.4 L965.3 288.6 L969.7 286.7 L974.0 284.9 L978.3 283.0 L982.7 281.2 L987.0 279.4 L991.4 277.6 L995.7 275.8 L1000.1 274.1 L1004.4 272.3 L1008.8 270.6 L1013.1 268.9 L1017.5 267.1 L1021.8 265.4 L1026.2 263.7 L1030.5 262.1 L1034.9 260.4 L1039.2 258.7 L1043.6 257.1 L1047.9 255.4 L1052.3 253.8 L1056.6 252.2 L1061.0 250.6 L1065.3 249.0 L1069.7 247.4 L1074.0 245.8 L1078.4 244.3 L1082.7 242.7 L1087.0 241.2 L1091.4 239.6 L1095.7 238.1 L1100.1 236.6 L1104.4 235.1 L1108.8 233.6 L1113.1 232.1 L1117.5 230.6 L1121.8 229.2 L1126.2 227.7 L1130.5 226.2 L1134.9 224.8 L1139.2 223.4 L1143.6 221.9 L1147.9 220.5 L1152.3 219.1 L1156.6 217.7 L1161.0 216.3 L1165.3 215.0 L1169.7 213.6 L1174.0 212.2 L1178.4 210.9 L1182.7 209.5 L1187.1 208.2 L1191.4 206.8 L1195.7 205.5 L1200.1 204.2 L1204.4 202.9 L1208.8 201.6 L1213.1 200.3 L1217.5 199.0 L1221.8 197.7 L1226.2 196.4 L1230.5 195.2 L1234.9 193.9 L1239.2 192.6 L1243.6 191.4 L1247.9 190.2 L1252.3 188.9 L1256.6 187.7 L1261.0 186.5 L1265.3 185.3 L1269.7 184.1 L1274.0 182.9 L1278.4 181.7 L1282.7 180.5 L1287.1 179.3 L1291.4 178.1 L1295.8 176.9 L1300.1 175.8 L1304.4 174.6 L1308.8 173.5 L1313.1 172.3 L1317.5 171.2 L1321.8 170.1 L1326.2 168.9 L1330.5 167.8 L1334.9 166.7 L1339.2 165.6 L1343.6 164.5 L1347.9 163.4 L1352.3 162.3 L1356.6 161.2 L1361.0 160.1 L1365.3 159.1 L1369.7 158.0 L1374.0 156.9 L1378.4 155.9 L1382.7 154.8 L1387.1 153.8 L1391.4 152.7 L1395.8 151.7 L1400.1 150.6 L1404.5 149.6 L1408.8 148.6 L1413.1 147.6 L1417.5 146.5 L1421.8 145.5 L1426.2 144.5 L1430.5 143.5 L1434.9 142.5 L1439.2 141.5 L1443.6 140.6 L1447.9 139.6 L1452.3 138.6 L1456.6 137.6 L1461.0 136.7 L1465.3 135.7 L1469.7 134.7 L1474.0 133.8 L1478.4 132.8 L1482.7 131.9 L1487.1 131.0 L1491.4 130.0 L1495.8 129.1 L1500.1 128.2 L1504.5 127.2 L1508.8 126.3 L1513.2 125.4 L1517.5 124.5 L1521.8 123.6 L1526.2 122.7 L1530.5 121.8 L1534.9 120.9 L1539.2 120.0 L1543.6 119.1 L1547.9 118.2 L1552.3 117.3 L1556.6 116.5 L1561.0 115.6 L1565.3 114.7 L1569.7 113.9 L1574.0 113.0 L1578.4 112.1 L1582.7 111.3 L1587.1 110.4 L1591.4 109.6 L1595.8 108.7 L1602.5 107.4"/>
</g>
<g id="frame" fill="#000" shape-rendering="crispEdges">
<rect x="365" y="1116" width="6" height="20"/>
<rect x="654" y="1116" width="6" height="20"/>
<rect x="943" y="1116" width="6" height="20"/>
<rect x="1232" y="1116" width="6" height="20"/>
<rect x="1520" y="1116" width="7" height="20"/>
<rect x="208" y="204" width="20" height="6"/>
<rect x="208" y="382" width="20" height="6"/>
<rect x="208" y="559" width="20" height="6"/>
<rect x="208" y="736" width="20" height="6"/>
<rect x="208" y="913" width="20" height="7"/>
<rect x="208" y="1091" width="20" height="6"/>
<rect x="228" y="44" width="6" height="1072"/>
<rect x="1657" y="44" width="7" height="1072"/>
<rect x="228" y="44" width="1436" height="6"/>
<rect x="228" y="1110" width="1436" height="6"/>
</g>
<g id="labels" filter="url(#bw)">
<text class="k" transform="translate(368.2 1185.0) scale(0.945 1)" text-anchor="middle">1.0</text>
<text class="k" transform="translate(657.1 1185.0) scale(0.945 1)" text-anchor="middle">2.0</text>
<text class="k" transform="translate(946.0 1185.0) scale(0.945 1)" text-anchor="middle">3.0</text>
<text class="k" transform="translate(1234.8 1185.0) scale(0.945 1)" text-anchor="middle">4.0</text>
<text class="k" transform="translate(1523.7 1185.0) scale(0.945 1)" text-anchor="middle">5.0</text>
<text class="k" transform="translate(206.5 230.9) scale(0.945 1)" text-anchor="end">-2.0</text>
<text class="k" transform="translate(206.5 408.2) scale(0.945 1)" text-anchor="end">-2.5</text>
<text class="k" transform="translate(206.5 585.6) scale(0.945 1)" text-anchor="end">-3.0</text>
<text class="k" transform="translate(206.5 762.9) scale(0.945 1)" text-anchor="end">-3.5</text>
<text class="k" transform="translate(206.5 940.2) scale(0.945 1)" text-anchor="end">-4.0</text>
<text class="k" transform="translate(206.5 1117.5) scale(0.945 1)" text-anchor="end">-4.5</text>
<text class="t" transform="translate(973.0 1250.3) scale(0.960 1)" text-anchor="middle">Center Frequency [GHz]</text>
<text class="t" transform="translate(69.5 603.6) rotate(-90) scale(0.960 1)" text-anchor="middle">Penetration Depth [m]</text>
</g>
<g id="legend" shape-rendering="crispEdges">
<rect x="1178.0" y="526.0" width="387.7" height="450.5" rx="45" ry="45" fill="#fff" stroke="#000" stroke-width="6.2"/>
<line x1="1232.8" y1="602.0" x2="1433.9" y2="602.0" stroke="#1f77b4" stroke-width="13.8"/>
<line x1="1232.8" y1="701.5" x2="1433.9" y2="701.5" stroke="#99cbed" stroke-width="13" stroke-dasharray="31.3 23.1"/>
<line x1="1232.8" y1="801.0" x2="1433.9" y2="801.0" stroke="#ff7f0e" stroke-width="13.8"/>
<line x1="1232.8" y1="900.5" x2="1433.9" y2="900.5" stroke="#ffc18d" stroke-width="13" stroke-dasharray="31.3 23.1"/>
</g>
<g id="legend-labels" filter="url(#bw)">
<text transform="translate(1486.0 617.5) scale(0.78 1)" style="font-size:74px" text-anchor="middle">ˆ</text>
<text class="m" x="1456" y="629.0">d<tspan dy="8.8" dx="1.2" style="font-style:normal;font-size:46.7px;stroke:#000;stroke-width:1.3px">1</tspan></text>
<text class="m" x="1456" y="728.5">d<tspan dy="8.8" dx="1.2" style="font-style:normal;font-size:46.7px;stroke:#000;stroke-width:1.3px">1</tspan></text>
<text transform="translate(1486.0 816.5) scale(0.78 1)" style="font-size:74px" text-anchor="middle">ˆ</text>
<text class="m" x="1456" y="828.0">d<tspan dy="8.8" dx="1.2" style="font-style:normal;font-size:46.7px;stroke:#000;stroke-width:1.3px">2</tspan></text>
<text class="m" x="1456" y="927.5">d<tspan dy="8.8" dx="1.2" style="font-style:normal;font-size:46.7px;stroke:#000;stroke-width:1.3px">2</tspan></text>
</g>
</svg>
</body>
</html>
